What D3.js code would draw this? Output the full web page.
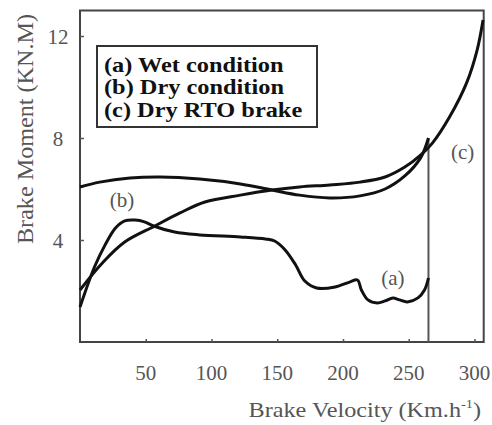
<!doctype html>
<html>
<head>
<style>
  body { margin: 0; background: #fff; }
  text { font-family: "Liberation Serif", "DejaVu Serif", serif; }
</style>
<script src="https://cdn.jsdelivr.net/npm/d3@7/dist/d3.min.js"></script>
</head>
<body>
<svg width="492" height="425"></svg>
<script>
// (a) wet condition
var wetV = [0, 11, 19, 27, 34, 42, 49, 56, 72, 91, 122, 141, 148, 156, 164, 171, 180, 194, 205, 211, 214, 219, 226, 232, 238, 243, 249, 257, 262, 265];
var wetM = [1.37, 2.94, 3.8, 4.47, 4.75, 4.78, 4.71, 4.55, 4.31, 4.2, 4.12, 4.04, 3.96, 3.61, 3.02, 2.39, 2.12, 2.16, 2.35, 2.43, 2.04, 1.65, 1.53, 1.61, 1.73, 1.65, 1.57, 1.73, 2.04, 2.51];
// (b) dry condition
var dryV = [0, 15, 38, 61, 91, 122, 146, 167, 190, 213, 232, 247, 259, 265];
var dryM = [6.08, 6.27, 6.43, 6.47, 6.39, 6.2, 5.96, 5.76, 5.65, 5.73, 6.0, 6.51, 7.22, 8.0];
// (c) dry RTO brake
var rtoV = [0, 17, 34, 57, 76, 95, 122, 146, 167, 190, 213, 232, 247, 259, 268, 281, 294, 302, 306.5];
var rtoM = [2.04, 3.1, 3.92, 4.55, 5.06, 5.49, 5.76, 5.96, 6.08, 6.16, 6.27, 6.47, 6.86, 7.33, 7.8, 8.82, 10.16, 11.45, 12.63];

var xTicks = [50, 100, 150, 200, 250, 300];
var yTicks = [4, 8, 12];
var legendItems = ["(a) Wet condition", "(b) Dry condition", "(c) Dry RTO brake"];

var svg = d3.select("svg");
var x = d3.scaleLinear().domain([0, 307]).range([80, 483.7]);
var y = d3.scaleLinear().domain([0, 13]).range([342, 10.5]);

// frame
svg.append("rect")
   .attr("x", x(0)).attr("y", y(13))
   .attr("width", x(307) - x(0)).attr("height", y(0) - y(13))
   .attr("fill", "none").attr("stroke", "#444").attr("stroke-width", 2);

// axes with inward ticks
var gx = svg.append("g")
   .attr("transform", "translate(0," + y(0) + ")")
   .call(d3.axisTop(x).tickValues(xTicks).tickSize(3).tickFormat(""));
gx.select(".domain").remove();
gx.selectAll("line").attr("stroke", "#555").attr("stroke-width", 1.5);

var gy = svg.append("g")
   .attr("transform", "translate(" + x(0) + ",0)")
   .call(d3.axisRight(y).tickValues(yTicks).tickSize(4).tickFormat(""));
gy.select(".domain").remove();
gy.selectAll("line").attr("stroke", "#555").attr("stroke-width", 1.5);

svg.selectAll(".xlab").data(xTicks).enter().append("text")
   .attr("x", function(d) { return x(d); })
   .attr("y", 380)
   .attr("text-anchor", "middle")
   .attr("font-size", 21).attr("fill", "#555")
   .text(function(d) { return d; });

svg.selectAll(".ylab").data(yTicks).enter().append("text")
   .attr("x", 58)
   .attr("y", function(d) { return y(d) + 8; })
   .attr("text-anchor", "middle")
   .attr("font-size", 21).attr("fill", "#555")
   .text(function(d) { return d; });

// axis titles (source font runs wider, so stretch a bit)
var xt = svg.append("text")
   .attr("transform", "translate(481,417) scale(1.1,1)")
   .attr("text-anchor", "end")
   .attr("font-size", 22).attr("fill", "#555")
   .text("Brake Velocity (Km.h");
xt.append("tspan").attr("font-size", 13).attr("dy", -9).text("-1");
xt.append("tspan").attr("dy", 9).text(")");

svg.append("text")
   .attr("transform", "translate(33,129) rotate(-90) scale(1.05,1)")
   .attr("text-anchor", "middle")
   .attr("font-size", 23).attr("fill", "#555")
   .text("Brake Moment (KN.M)");

// curves
var line = d3.line()
   .x(function(d) { return x(d[0]); })
   .y(function(d) { return y(d[1]); })
   .curve(d3.curveCatmullRom.alpha(0.5));

function pairs(v, m) { return v.map(function(d, i) { return [d, m[i]]; }); }

var series = [pairs(wetV, wetM), pairs(dryV, dryM), pairs(rtoV, rtoM)];

// vertical drop at end of (a)/(b)
var last = series[1][series[1].length - 1];
svg.append("path")
   .attr("d", d3.line()([[x(last[0]), y(last[1])], [x(last[0]), y(0)]]))
   .attr("stroke", "#555").attr("stroke-width", 2).attr("fill", "none");

svg.selectAll(".curve").data(series).enter().append("path")
   .attr("class", "curve")
   .attr("d", line)
   .attr("fill", "none")
   .attr("stroke", "#111")
   .attr("stroke-width", 3)
   .attr("stroke-linejoin", "round");

// curve labels
var curveLabels = [["(b)", 32, 5.3], ["(a)", 238, 2.24], ["(c)", 291, 7.18]];
svg.selectAll(".clab").data(curveLabels).enter().append("text")
   .attr("x", function(d) { return x(d[1]); })
   .attr("y", function(d) { return y(d[2]); })
   .attr("text-anchor", "middle")
   .attr("font-size", 21).attr("fill", "#555")
   .text(function(d) { return d[0]; });

// legend box
svg.append("rect")
   .attr("x", 97).attr("y", 46).attr("width", 220).attr("height", 81)
   .attr("fill", "#fff").attr("stroke", "#333").attr("stroke-width", 2);

svg.append("g")
   .attr("transform", "translate(104,0) scale(1.16,1)")
   .selectAll(".leg").data(legendItems).enter().append("text")
   .attr("x", 0)
   .attr("y", function(d, i) { return 72 + i * 22.5; })
   .attr("font-size", 21).attr("font-weight", "bold").attr("fill", "#111")
   .text(function(d) { return d; });
</script>
</body>
</html>
